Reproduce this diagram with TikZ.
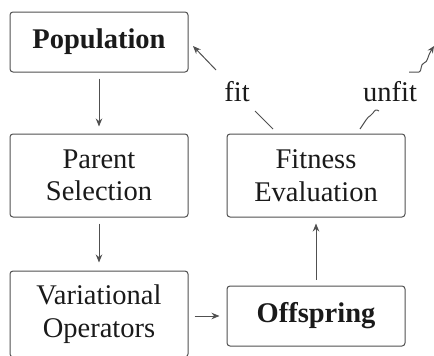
\documentclass[tikz,border=0pt]{standalone}
\usepackage{fontspec}
\setmainfont{Liberation Serif}
\usetikzlibrary{arrows.meta}
\definecolor{edgegray}{HTML}{505050}
\definecolor{inkblack}{HTML}{1A1A1A}
\tikzset{
  stagebox/.style={draw=edgegray, line width=1pt, rounded corners=3pt,
    minimum width=178pt, align=center, text=inkblack,
    font=\fontsize{28.5}{32.5}\selectfont, inner sep=0pt},
  flow/.style={draw=edgegray, line width=1pt,
    -{Stealth[length=8pt,width=6.5pt]}},
  edgelabel/.style={text=inkblack, font=\fontsize{28.5}{32.5}\selectfont, inner sep=0pt}
}
\begin{document}
\begin{tikzpicture}[x=1pt, y=-1pt]
  \useasboundingbox (0,0) rectangle (434,356);

  % the five stages of the loop
  \node[stagebox, minimum height=60pt] (pop) at (99,42) {\textbf{Population}};
  \node[stagebox, minimum height=83pt] (sel) at (99,175.5) {Parent\\Selection};
  \node[stagebox, minimum height=86pt] (var) at (99,314) {Variational\\Operators};
  \node[stagebox, minimum height=83pt] (fitn) at (316,175.5) {Fitness\\Evaluation};
  \node[stagebox, minimum height=60pt] (off) at (316,316) {\textbf{Offspring}};

  % straight transitions
  \draw[flow, shorten <=6pt, shorten >=7pt] (pop) -- (sel);
  \draw[flow, shorten <=6pt, shorten >=8pt] (sel) -- (var);
  \draw[flow, shorten <=6pt, shorten >=7pt] (var.east |- off) -- (off.west);
  \draw[flow, shorten <=6pt, shorten >=6pt] (off) -- (fitn);

  % survivors go back to the population
  \coordinate (fitfrom) at (273,129);
  \coordinate (fitto) at (193,46);
  \node[edgelabel] (fitlbl) at (237,92) {fit};
  \draw[draw=edgegray, line width=1pt] (fitfrom) -- (255,111);
  \draw[flow] (216,70) -- (fitto);

  % the rest are discarded
  \coordinate (unfitfrom) at (360,129);
  \coordinate (unfitto) at (434,46);
  \node[edgelabel] (unfitlbl) at (390,92) {unfit};
  \draw[draw=edgegray, line width=1pt]
    (unfitfrom) -- (366,120) .. controls (369,115) and (372,116) .. (373,113)
    .. controls (375,110) and (376,109) .. (379,111);
  \draw[draw=edgegray, line width=1pt, -{Stealth[length=7pt,width=6pt]}]
    (409,72) -- (419,72) .. controls (422,72) and (420,64) .. (424,63)
    .. controls (428,62) and (427,57) .. (unfitto);
\end{tikzpicture}
\end{document}
